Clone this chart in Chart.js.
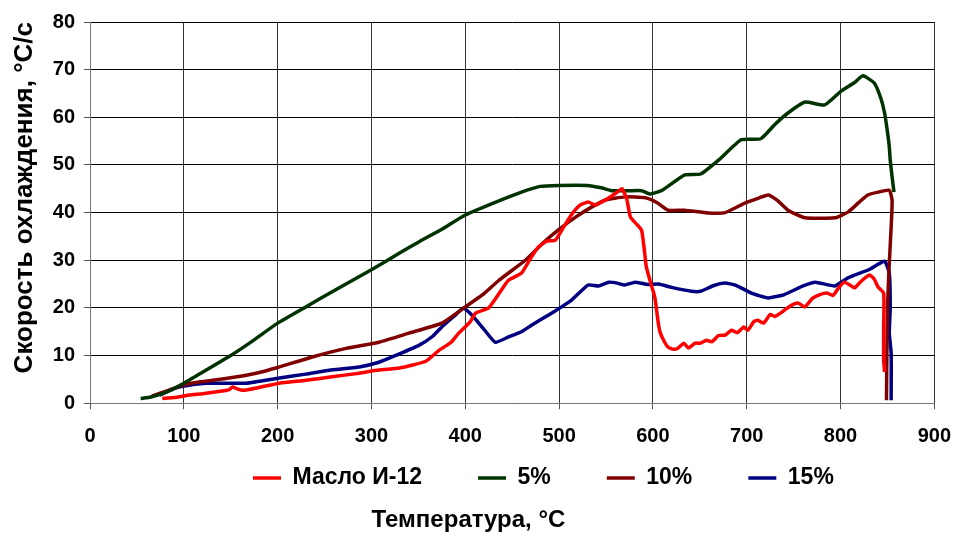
<!DOCTYPE html>
<html>
<head>
<meta charset="utf-8">
<script src="https://cdn.jsdelivr.net/npm/chart.js@4"></script>
<style>
  html, body { margin: 0; padding: 0; background: #fff; }
  #wrap { width: 966px; height: 541px; }
</style>
</head>
<body>
<div id="wrap"><canvas id="coolingChart" width="966" height="541"></canvas></div>
<script>
// Cooling rate vs temperature, four quenchants
const seriesNames = ['Масло И-12', '5%', '10%', '15%'];
const seriesColors = ['#ff0000', '#003300', '#800000', '#000080'];

const oilTemp = [77, 90, 106, 120, 135, 148, 152, 157, 163, 180, 202, 230, 260, 287, 305, 330, 358, 372, 385, 393,
  405, 411, 425, 436, 446, 460, 470, 478, 487, 496, 505, 513, 522, 531, 539, 553, 562, 567, 572, 576,
  583, 588, 591, 593, 598, 602, 606, 608, 612, 616, 622, 627, 633, 638, 645, 651, 657, 663, 670, 677,
  684, 690, 697, 701, 708, 712, 718, 725, 730, 736, 742, 748, 755, 762, 770, 778, 786, 792, 798, 804,
  810, 815, 822, 831, 836, 840, 846, 846, 846, 847];
const oilRate = [1.0, 1.2, 1.7, 2.0, 2.4, 2.8, 3.4, 3.0, 2.7, 3.3, 4.2, 4.8, 5.6, 6.3, 6.9, 7.4, 8.8, 11.1, 12.8, 14.7,
  17.0, 18.9, 20.0, 23.0, 25.8, 27.3, 30.5, 32.8, 34.0, 34.2, 37.0, 39.5, 41.5, 42.2, 41.6, 43.1, 44.3, 45.0, 43.0, 39.1,
  37.5, 36.3, 32.0, 28.6, 25.0, 22.3, 16.5, 14.7, 13.0, 11.8, 11.3, 11.6, 12.6, 11.6, 12.6, 12.6, 13.2, 12.9, 14.2, 14.3,
  15.3, 14.8, 16.0, 15.3, 17.2, 17.4, 16.8, 18.6, 18.2, 18.9, 19.8, 20.6, 21.0, 20.2, 22.0, 22.8, 23.1, 22.6, 24.2, 25.4,
  24.8, 24.2, 25.6, 26.9, 26.0, 24.4, 23.1, 16.0, 9.0, 6.5];

const temp5 = [54, 65, 80, 100, 120, 150, 175, 200, 230, 260, 300, 330, 350, 375, 400, 430, 460, 480, 500, 530,
  545, 556, 575, 588, 597, 610, 634, 651, 670, 694, 715, 730, 744, 762, 783, 800, 815, 824, 836, 843,
  847, 850, 852, 853, 855, 857];
const rate5 = [1.0, 1.3, 2.2, 4.2, 6.5, 10.0, 13.3, 16.8, 20.2, 23.6, 28.0, 31.5, 33.8, 36.5, 39.5, 42.0, 44.3, 45.5, 45.7, 45.7,
  45.2, 44.6, 44.6, 44.6, 43.9, 44.7, 47.9, 48.1, 51.0, 55.3, 55.5, 58.5, 60.9, 63.2, 62.6, 65.4, 67.3, 68.7, 67.2, 64.0,
  60.9, 57.0, 53.8, 51.0, 47.5, 44.3];

const temp10 = [66, 82, 99, 115, 131, 155, 177, 200, 237, 273, 308, 340, 375, 400, 420, 436, 464, 486, 500, 518,
  535, 549, 570, 592, 605, 616, 634, 659, 677, 698, 712, 723, 733, 744, 762, 794, 808, 820, 829, 840,
  852, 855, 854, 852, 850, 849];
const rate10 = [1.5, 2.6, 3.8, 4.4, 4.8, 5.5, 6.3, 7.5, 9.7, 11.5, 12.8, 14.7, 16.8, 20.2, 23.0, 25.8, 30.0, 34.2, 36.5, 39.1,
  41.2, 42.6, 43.3, 43.1, 42.0, 40.5, 40.5, 39.9, 40.0, 42.0, 43.0, 43.7, 42.5, 40.5, 38.9, 38.9, 40.1, 42.2, 43.7, 44.3,
  44.7, 42.6, 37.0, 29.4, 19.5, 0.6];

const temp15 = [74, 92, 110, 124, 150, 167, 202, 230, 255, 287, 308, 322, 351, 365, 375, 390, 398, 407, 420, 432,
  446, 460, 471, 492, 513, 531, 542, 553, 562, 570, 581, 595, 606, 620, 641, 651, 665, 677, 688, 705,
  723, 740, 760, 773, 794, 808, 830, 847, 852, 853, 852, 854, 854];
const rate15 = [1.7, 3.2, 3.9, 4.2, 4.2, 4.2, 5.3, 6.1, 6.9, 7.6, 8.6, 9.7, 12.2, 14.0, 16.0, 18.6, 20.0, 18.5, 15.5, 12.8,
  13.9, 15.0, 16.4, 18.9, 21.6, 24.8, 24.6, 25.4, 25.2, 24.8, 25.4, 24.9, 25.0, 24.3, 23.5, 23.5, 24.7, 25.2, 24.8, 23.1,
  22.1, 22.8, 24.6, 25.4, 24.6, 26.3, 28.0, 29.8, 27.3, 20.0, 14.7, 10.5, 0.6];

const xTicks = [0, 100, 200, 300, 400, 500, 600, 700, 800, 900];
const yTicks = [0, 10, 20, 30, 40, 50, 60, 70, 80];

function toPoints(xs, ys) {
  return xs.map((x, i) => ({ x: x, y: ys[i] }));
}

const allSeries = [
  toPoints(oilTemp, oilRate),
  toPoints(temp5, rate5),
  toPoints(temp10, rate10),
  toPoints(temp15, rate15)
];

const datasets = allSeries.map((pts, i) => ({
  label: seriesNames[i],
  data: pts,
  borderColor: seriesColors[i],
  backgroundColor: seriesColors[i],
  borderWidth: 3.5,
  pointRadius: 0,
  pointStyle: 'line',
  showLine: true,
  fill: false,
  tension: 0.15
}));

const FONT = '"Liberation Sans", Arial, sans-serif';
const LEGEND_PAD = 56;

// legend row: a bit right of centre, just under the tick labels
const legendShift = {
  id: 'legendShift',
  afterLayout(chart) {
    const lg = chart.legend;
    const w = lg.right - lg.left;
    lg.left = 197;
    lg.right = 197 + w;
    lg.top = 478 - LEGEND_PAD - 11.5;
    lg.bottom = 502;  // legend clips to its own box
  }
};

new Chart(document.getElementById('coolingChart'), {
  type: 'scatter',
  data: { datasets: datasets },
  options: {
    responsive: false,
    animation: false,
    layout: { padding: { left: 0, right: 29, top: 22, bottom: 0 } },
    scales: {
      x: {
        type: 'linear',
        min: 0,
        max: 900,
        afterBuildTicks: axis => { axis.ticks = xTicks.map(v => ({ value: v })); },
        afterFit: axis => { axis.height = 52; },
        grid: { color: '#333', lineWidth: 1, tickLength: 6, tickColor: '#555' },
        border: { color: '#777', width: 1 },
        ticks: { color: '#000', font: { family: FONT, size: 20, weight: 'bold' }, padding: 15, maxRotation: 0 }
      },
      y: {
        min: 0,
        max: 80,
        afterBuildTicks: axis => { axis.ticks = yTicks.map(v => ({ value: v })); },
        afterFit: axis => { axis.width = 90; },
        grid: { color: '#000', lineWidth: 1, tickLength: 6, tickColor: '#555' },
        border: { color: '#777', width: 1 },
        ticks: { color: '#000', font: { family: FONT, size: 20, weight: 'bold' }, padding: 9 },
        title: {
          display: true,
          text: 'Скорость охлаждения, °С/с',
          align: 'end',
          color: '#000',
          font: { family: FONT, size: 26, weight: 'bold' },
          padding: { top: 9, bottom: 0 }
        }
      }
    },
    plugins: {
      legend: {
        position: 'bottom',
        align: 'start',
        maxHeight: 42,
        labels: {
          usePointStyle: true,
          pointStyleWidth: 28,
          boxWidth: 28,
          boxHeight: 3,
          padding: LEGEND_PAD,
          color: '#000',
          font: { family: FONT, size: 23, weight: 'bold' }
        }
      },
      title: {
        display: true,
        position: 'bottom',
        text: 'Температура, °С',
        color: '#000',
        font: { family: FONT, size: 24, weight: 'bold' },
        padding: { top: 9, bottom: 6 }
      },
      tooltip: { enabled: false }
    }
  },
  plugins: [legendShift]
});
</script>
</body>
</html>
